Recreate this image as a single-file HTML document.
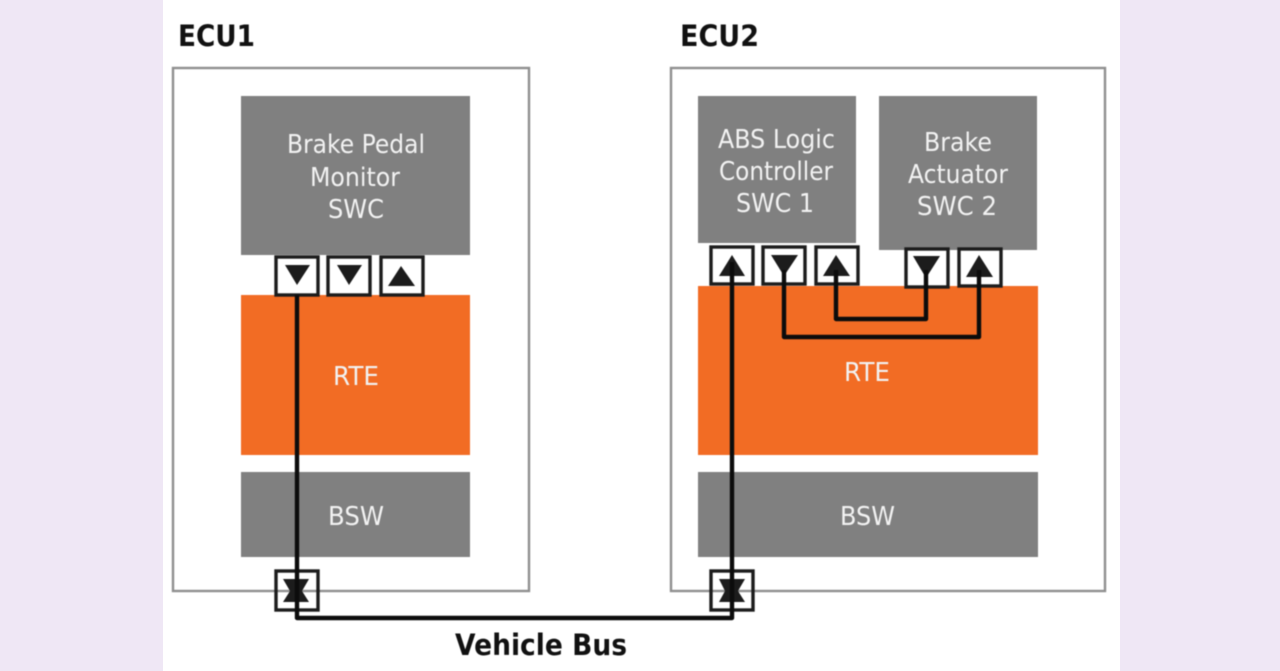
<!DOCTYPE html>
<html>
<head>
<meta charset="utf-8">
<style>
html,body{margin:0;padding:0;width:1280px;height:671px;overflow:hidden;background:#efe7f5}
svg{display:block}
text{font-family:"DejaVu Sans","Liberation Sans",sans-serif;text-anchor:start}
.w{fill:#f2f2f2;font-size:26px}
.b{fill:#111;font-weight:bold;font-size:29px}
.p{fill:#fff;stroke:#1c1c1c;stroke-width:3.4}
.q{fill:none;stroke:#1c1c1c;stroke-width:3.4}
.l{fill:none;stroke:#0c0c0c;stroke-width:4.4;stroke-linejoin:round}
.t{fill:#1c1c1c}
.s{filter:blur(.45px)}
</style>
</head>
<body>
<svg width="1280" height="671" viewBox="0 0 1280 671">
<rect x="163" y="0" width="957" height="671" fill="#fff"/>
<g class="s">
<rect x="173" y="68" width="356" height="523" fill="#fff" stroke="#8f8f8f" stroke-width="2.4"/>
<rect x="671" y="68" width="434" height="523" fill="#fff" stroke="#8f8f8f" stroke-width="2.4"/>

<rect x="241" y="96" width="229" height="159" fill="#808080"/>
<rect x="241" y="295" width="229" height="160" fill="#f26c24"/>
<rect x="241" y="472" width="229" height="85" fill="#808080"/>

<rect x="698" y="96" width="158" height="147" fill="#808080"/>
<rect x="879" y="96" width="158" height="154" fill="#808080"/>
<rect x="698" y="286" width="340" height="169" fill="#f26c24"/>
<rect x="698" y="472" width="340" height="85" fill="#808080"/>

<text x="178" y="46" class="b" textLength="77" lengthAdjust="spacingAndGlyphs">ECU1</text>
<text x="680" y="46" class="b" textLength="79" lengthAdjust="spacingAndGlyphs">ECU2</text>
<text x="455" y="655" class="b" textLength="172" lengthAdjust="spacingAndGlyphs">Vehicle Bus</text>

<text x="287" y="153" class="w" textLength="138" lengthAdjust="spacingAndGlyphs">Brake Pedal</text>
<text x="310" y="186" class="w" textLength="90" lengthAdjust="spacingAndGlyphs">Monitor</text>
<text x="328" y="218" class="w" textLength="56" lengthAdjust="spacingAndGlyphs">SWC</text>
<text x="333" y="385" class="w" textLength="46" lengthAdjust="spacingAndGlyphs">RTE</text>
<text x="328" y="525" class="w" textLength="56" lengthAdjust="spacingAndGlyphs">BSW</text>

<text x="718" y="148" class="w" textLength="117" lengthAdjust="spacingAndGlyphs">ABS Logic</text>
<text x="719" y="180" class="w" textLength="114" lengthAdjust="spacingAndGlyphs">Controller</text>
<text x="736" y="212" class="w" textLength="78" lengthAdjust="spacingAndGlyphs">SWC 1</text>
<text x="924" y="151" class="w" textLength="68" lengthAdjust="spacingAndGlyphs">Brake</text>
<text x="908" y="183" class="w" textLength="100" lengthAdjust="spacingAndGlyphs">Actuator</text>
<text x="917" y="215" class="w" textLength="80" lengthAdjust="spacingAndGlyphs">SWC 2</text>
<text x="844" y="381" class="w" textLength="46" lengthAdjust="spacingAndGlyphs">RTE</text>
<text x="840" y="525" class="w" textLength="55" lengthAdjust="spacingAndGlyphs">BSW</text>

<rect class="p" x="276" y="257" width="42" height="38"/>
<rect class="p" x="328" y="257" width="42" height="38"/>
<rect class="p" x="381" y="257" width="42" height="38"/>
<rect class="p" x="711" y="247" width="42" height="37"/>
<rect class="p" x="763" y="247" width="42" height="37"/>
<rect class="p" x="816" y="247" width="42" height="37"/>
<rect class="p" x="906" y="249" width="42" height="38"/>
<rect class="p" x="959" y="249" width="42" height="37"/>
<rect class="q" x="276" y="571" width="42" height="39"/>
<rect class="q" x="711" y="571" width="42" height="39"/>

<path class="t" d="M285 265H310L297 285Z"/>
<path class="t" d="M337 265H362L349 285Z"/>
<path class="t" d="M388 286H415L401 266Z"/>
<path class="t" d="M719 276H745L732 255Z"/>
<path class="t" d="M771 255H798L784 276Z"/>
<path class="t" d="M823 276H850L836 255Z"/>
<path class="t" d="M913 256H940L926 278Z"/>
<path class="t" d="M966 277H993L979 255Z"/>
<path class="t" d="M283 579H309L302 591L309 602H283L290 591Z"/>
<path class="t" d="M719 579H745L738 591L745 602H719L725 591Z"/>

<path class="l" d="M297 295V618H732V262"/>
<path class="l" d="M784 270V337H979V270"/>
<path class="l" d="M836 270V319H926V270"/>
</g>
</svg>
</body>
</html>
